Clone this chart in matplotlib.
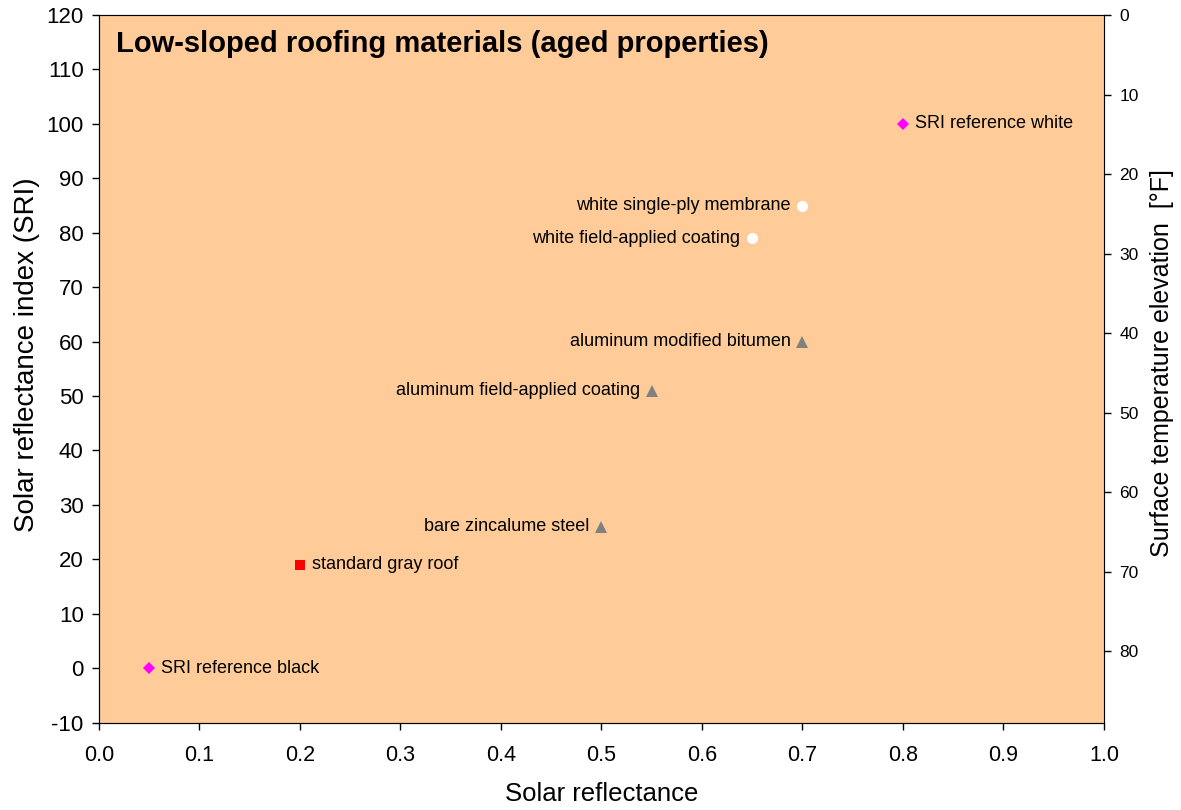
import matplotlib
matplotlib.use("Agg")
import matplotlib.pyplot as plt

plt.rcParams['font.family'] = ['Liberation Sans', 'DejaVu Sans']
plt.rcParams['axes.unicode_minus'] = False

# Data
labels = ["SRI reference black", "SRI reference white", "standard gray roof",
          "bare zincalume steel", "aluminum field-applied coating",
          "aluminum modified bitumen", "white field-applied coating",
          "white single-ply membrane"]
reflectance = [0.05, 0.80, 0.20, 0.50, 0.55, 0.70, 0.65, 0.70]
sri = [0, 100, 19, 26, 51, 60, 79, 85]
groups = ["ref", "ref", "gray", "metal", "metal", "metal", "white", "white"]
label_side = ["right", "right", "right", "left", "left", "left", "left", "left"]

xticks = [0.0, 0.1, 0.2, 0.3, 0.4, 0.5, 0.6, 0.7, 0.8, 0.9, 1.0]
yticks = list(range(-10, 121, 10))
rticks = list(range(0, 81, 10))

styles = {
    "ref": dict(marker="D", color="#FF00FF", ms=6.5),
    "gray": dict(marker="s", color="#FF0000", ms=7.5),
    "metal": dict(marker="^", color="#808080", ms=8),
    "white": dict(marker="o", color="#FFFFFF", ms=8),
}

fig = plt.figure(figsize=(11.81, 8.10), dpi=100)
ax = fig.add_axes([0.0838, 0.1078, 0.851, 0.8737])
ax.set_facecolor("#FFCC99")

for x, y, g, lab, side in zip(reflectance, sri, groups, labels, label_side):
    st = styles[g]
    ax.plot([x], [y], linestyle="none", marker=st["marker"], color=st["color"],
            markersize=st["ms"], markeredgewidth=0, zorder=3)
    if side == "right":
        ax.annotate(lab, (x, y), xytext=(8.5, 0), textcoords="offset points",
                    ha="left", va="center", fontsize=13)
    else:
        ax.annotate(lab, (x, y), xytext=(-8.5, 0), textcoords="offset points",
                    ha="right", va="center", fontsize=13)

ax.set_xlim(0, 1.0)
ax.set_ylim(-10, 120)
ax.set_xticks(xticks)
ax.set_xticklabels([f"{t:.1f}" for t in xticks])
ax.set_yticks(yticks)
ax.tick_params(axis="x", direction="out", length=5, labelsize=15.5, width=1, pad=11)
ax.tick_params(axis="y", direction="out", length=5, labelsize=16, width=1, pad=6)
ax.set_xlabel("Solar reflectance", fontsize=18.5)
ax.xaxis.set_label_coords(0.5, -0.084)
ax.set_ylabel("Solar reflectance index (SRI)", fontsize=20)
ax.yaxis.set_label_coords(-0.059, 0.52)
for s in ax.spines.values():
    s.set_color("#808080")
ax.spines["left"].set_color("black")
ax.spines["bottom"].set_color("black")

ax.text(0.017, 0.979, "Low-sloped roofing materials (aged properties)",
        transform=ax.transAxes, fontsize=21, fontweight="bold", va="top", ha="left")

ax2 = ax.twinx()
ax2.set_ylim(89, 0)
ax2.set_yticks(rticks)
ax2.tick_params(axis="y", direction="out", length=5, labelsize=12.5, width=1, pad=6)
ax2.spines["right"].set_color("black")
ax2.set_ylabel("Surface temperature elevation  [°F]", fontsize=18, rotation=90)
ax2.yaxis.set_label_coords(1.046, 0.508)

fig.savefig("out.png", dpi=100, facecolor="white")
